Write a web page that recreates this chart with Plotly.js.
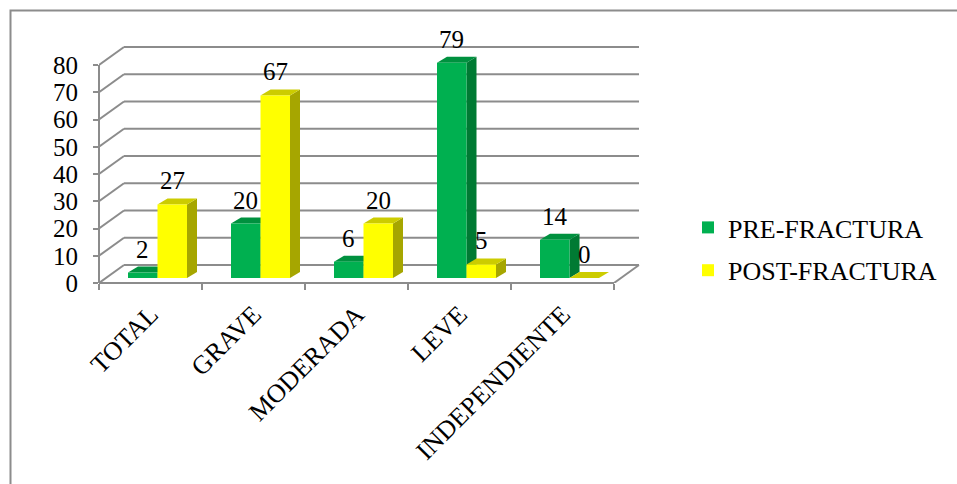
<!DOCTYPE html>
<html>
<head>
<meta charset="utf-8">
<script src="https://cdn.plot.ly/plotly-3.0.1.min.js"></script>
<style>
  html, body { margin: 0; padding: 0; background: #ffffff; }
  #chart { width: 957px; height: 484px; }
</style>
</head>
<body>
<div id="chart"></div>
<script>
// Grado de dependencia antes y después de la fractura
const categories = ['TOTAL', 'GRAVE', 'MODERADA', 'LEVE', 'INDEPENDIENTE'];
const preFractura = [2, 20, 6, 79, 14];
const postFractura = [27, 67, 20, 5, 0];
const seriesNames = ['PRE-FRACTURA', 'POST-FRACTURA'];
const yTicks = [0, 10, 20, 30, 40, 50, 60, 70, 80];

// Colours of each series: front face, top face, side face
const faces = [
  { front: '#00B050', top: '#00913F', side: '#007A33' },
  { front: '#FFFF00', top: '#CCCC00', side: '#A6A600' }
];

const W = 957, H = 484;
// Plot area in pixels (front plane): left edge, baseline, px per unit
const PLOT_LEFT = 99, PLOT_BASE = 283, PX_X = 103, PX_Y = 2.725;
const X_RANGE = [-0.5, 4.75];
const Y_RANGE = [0, 88];
const XDOM = [PLOT_LEFT / W, (PLOT_LEFT + (X_RANGE[1] - X_RANGE[0]) * PX_X) / W];
const YDOM = [(H - PLOT_BASE) / H, (H - PLOT_BASE + (Y_RANGE[1] - Y_RANGE[0]) * PX_Y) / H];

// 3-D look, expressed in axis units
const WALL_DX = 25 / PX_X, WALL_DY = 18 / PX_Y;   // depth of floor / back wall
const BAR_PX = 7 / PX_X, BAR_PY = 5 / PX_Y;       // front plane of the bars
const BAR_DX = 10 / PX_X, BAR_DY = 6 / PX_Y;      // depth of each bar
const BAR_W = 29.5 / PX_X;                        // width of each bar

const GRID = '#8C8C8C';
const FONT = '"Liberation Serif", "Times New Roman", serif';

const shapes = [];
const line = (x0, y0, x1, y1, extra) => Object.assign({
  type: 'line', xref: 'x', yref: 'y', x0, y0, x1, y1,
  line: { color: GRID, width: 2 }, layer: 'below'
}, extra || {});

// back wall gridlines and left wall diagonals
const xFirst = -0.5, xLast = categories.length - 0.5;
yTicks.forEach(v => {
  shapes.push(line(xFirst + WALL_DX, v + WALL_DY, xLast + WALL_DX, v + WALL_DY));
  shapes.push(line(xFirst, v, xFirst + WALL_DX, v + WALL_DY));
});
// floor right edge
shapes.push(line(xLast, 0, xLast + WALL_DX, WALL_DY));

// top and side faces of the bars
const seriesValues = [preFractura, postFractura];
const barLeft = (i, s) => i + BAR_PX - BAR_W + s * BAR_W;
const poly = pts => 'M' + pts.map(p => p[0] + ',' + p[1]).join(' L') + ' Z';
categories.forEach((c, i) => {
  seriesValues.forEach((vals, s) => {
    const xl = barLeft(i, s), xr = xl + BAR_W;
    const yb = BAR_PY, yt = BAR_PY + vals[i];
    shapes.push({
      type: 'path', xref: 'x', yref: 'y', layer: 'below',
      path: poly([[xr, yb], [xr, yt], [xr + BAR_DX, yt + BAR_DY], [xr + BAR_DX, yb + BAR_DY]]),
      fillcolor: faces[s].side, line: { width: 0 }
    });
    shapes.push({
      type: 'path', xref: 'x', yref: 'y', layer: 'below',
      path: poly([[xl, yt], [xr, yt], [xr + BAR_DX, yt + BAR_DY], [xl + BAR_DX, yt + BAR_DY]]),
      fillcolor: faces[s].top, line: { width: 0 }
    });
  });
});

// front axis lines
shapes.push({ type: 'line', xref: 'paper', yref: 'y', x0: XDOM[0], x1: XDOM[0], y0: 0, y1: yTicks[yTicks.length - 1],
  line: { color: GRID, width: 2 }, layer: 'above' });
shapes.push({ type: 'line', xref: 'x', yref: 'paper', x0: xFirst, x1: xLast, y0: YDOM[0], y1: YDOM[0],
  line: { color: GRID, width: 2 }, layer: 'above' });

// chart frame
shapes.push({ type: 'rect', xref: 'paper', yref: 'paper', x0: 10.5 / W, y0: -0.1, x1: 1.1, y1: (H - 10.5) / H,
  line: { color: GRID, width: 2 }, fillcolor: 'rgba(0,0,0,0)', layer: 'below' });

// front faces as bar traces
const traces = seriesValues.map((vals, s) => ({
  type: 'bar',
  name: seriesNames[s],
  x: categories.map((c, i) => i),
  y: vals,
  base: BAR_PY,
  offset: BAR_PX - BAR_W + s * BAR_W,
  width: BAR_W,
  marker: { color: faces[s].front, line: { width: 0 } },
  legendgroup: 'g' + s,
  hoverinfo: 'skip'
}));

// value labels
const annotations = [];
categories.forEach((c, i) => {
  seriesValues.forEach((vals, s) => {
    annotations.push({
      xref: 'x', yref: 'y',
      x: barLeft(i, s) + BAR_W / 2,
      y: BAR_PY + vals[i],
      text: String(vals[i]),
      showarrow: false,
      yanchor: 'bottom',
      yshift: 8,
      font: { family: FONT, size: 25, color: '#000000' }
    });
  });
});

const layout = {
  width: W, height: H,
  margin: { l: 0, r: 0, t: 0, b: 0 },
  paper_bgcolor: '#ffffff',
  plot_bgcolor: 'rgba(0,0,0,0)',
  barmode: 'overlay',
  showlegend: true,
  legend: {
    x: 688 / W, y: (H - 204) / H, xanchor: 'left', yanchor: 'top',
    font: { family: FONT, size: 26, color: '#000000' },
    traceorder: 'grouped', tracegroupgap: 6,
    bgcolor: 'rgba(0,0,0,0)'
  },
  xaxis: {
    domain: XDOM, range: X_RANGE, fixedrange: true,
    tickmode: 'array', tickvals: categories.map((c, i) => i), ticktext: categories,
    tickangle: -45, ticks: '', showgrid: false, zeroline: false, showline: false,
    ticklabelstandoff: 10,
    tickfont: { family: FONT, size: 26, color: '#000000' },
    minor: {
      tickmode: 'array',
      tickvals: categories.map((c, i) => i - 0.5).concat([xLast]),
      ticks: 'outside', ticklen: 6, tickwidth: 2, tickcolor: GRID, showgrid: false
    }
  },
  yaxis: {
    domain: YDOM, range: Y_RANGE, fixedrange: true,
    tickmode: 'array', tickvals: yTicks,
    ticks: 'outside', ticklen: 5, tickwidth: 2, tickcolor: GRID,
    ticklabelstandoff: 10,
    showgrid: false, zeroline: false, showline: false,
    tickfont: { family: FONT, size: 25, color: '#000000' }
  },
  shapes: shapes,
  annotations: annotations
};

Plotly.newPlot('chart', traces, layout, { displayModeBar: false, staticPlot: true });
</script>
</body>
</html>
